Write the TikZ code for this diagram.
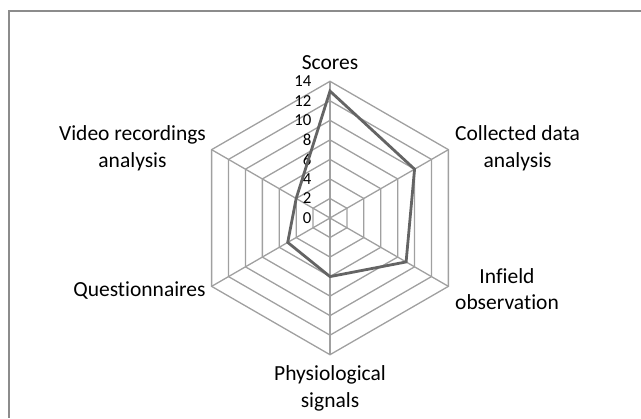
\documentclass[tikz,border=0pt]{standalone}
\usepackage{fontspec}
\setmainfont{Carlito}[Ligatures=NoCommon]
\usepackage{xcolor}
\definecolor{grid15}{RGB}{160,160,160}
\definecolor{line15}{RGB}{100,100,100}
\definecolor{frame15}{RGB}{140,140,140}
\usepackage{tikz}
\usetikzlibrary{positioning,calc}
\newcommand{\ring}[1]{\draw[gridline] (90:#1) -- (30:#1) -- (-30:#1) -- (-90:#1) -- (-150:#1) -- (150:#1) -- cycle}
\newcommand{\spoke}[1]{\draw[gridline] (O) -- (#1)}

\begin{document}
\begin{tikzpicture}[
      x=0.5pt,y=0.5pt,
      gridline/.style={draw=grid15,line width=0.65pt},
      series/.style={draw=line15,line width=1.4pt,line join=miter},
      axislabel/.style={font=\fontsize{10.75}{13.3}\selectfont,align=center,inner sep=0pt},
      ticklabel/.style={font=\fontsize{8.4}{9}\selectfont,inner sep=0pt,anchor=east}]

      \useasboundingbox (-330,-200) rectangle (311,218);

      % Frame
      \draw[frame15,line width=1pt] (311,206.5) -- (-321,206.5) -- (-321,-200);

      % Define axes
      \coordinate (O) at (0,0);
      \coordinate (sc) at (90:136.7);
      \coordinate (cd) at (30:136.7);
      \coordinate (io) at (-30:136.7);
      \coordinate (ps) at (-90:136.7);
      \coordinate (qu) at (-150:136.7);
      \coordinate (vr) at (150:136.7);

      % Draw grid
      \ring{19.53};
      \ring{39.06};
      \ring{58.59};
      \ring{78.11};
      \ring{97.64};
      \ring{117.17};
      \ring{136.7};
      \spoke{sc};
      \spoke{cd};
      \spoke{io};
      \spoke{ps};
      \spoke{qu};
      \spoke{vr};

      % Scale
      \node[ticklabel] (t0) at (-18.3,0) {0};
      \node[ticklabel] (t2) at (-18.3,19.53) {2};
      \node[ticklabel] (t4) at (-18.3,39.06) {4};
      \node[ticklabel] (t6) at (-18.3,58.59) {6};
      \node[ticklabel] (t8) at (-18.3,78.11) {8};
      \node[ticklabel] (t10) at (-18.3,97.64) {10};
      \node[ticklabel] (t12) at (-18.3,117.17) {12};
      \node[ticklabel] (t14) at (-18.3,136.7) {14};

      % Data points
      \coordinate (dsc) at (90:126.9);
      \coordinate (dcd) at (30:97.64);
      \coordinate (dio) at (-30:87.88);
      \coordinate (dps) at (-90:58.59);
      \coordinate (dqu) at (-150:48.82);
      \coordinate (dvr) at (150:39.06);
      \draw[series] (dsc) -- (dcd) -- (dio) -- (dps) -- (dqu) -- (dvr) -- cycle;

      % Axis labels
      \node[axislabel,anchor=base] (lsc) at (0,148.7) {Scores};
      \node[axislabel] (lcd) at (187.6,69.6) {Collected data\\analysis};
      \node[axislabel] (lvr) at (-197.5,69.6) {Video recordings\\analysis};
      \node[axislabel] (lio) at (177,-71.2) {Infield\\observation};
      \node[axislabel,anchor=base east] (lqu) at (-124,-78) {Questionnaires};
      \node[axislabel] (lps) at (0,-170.4) {Physiological\\signals};

  \end{tikzpicture}
\end{document}
